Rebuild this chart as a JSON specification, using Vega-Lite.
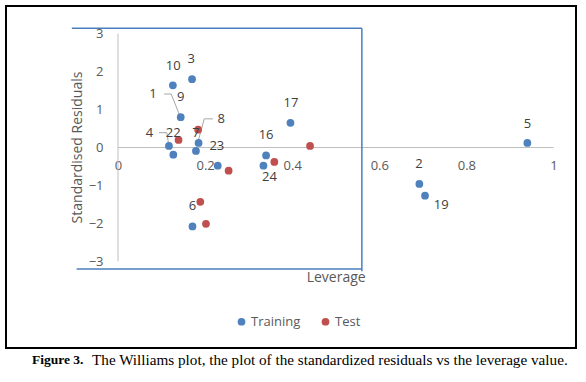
{
  "$schema": "https://vega.github.io/schema/vega-lite/v6.json",
  "width": 570,
  "height": 342,
  "autosize": {"type": "none"},
  "padding": {"left": 6, "top": 6, "right": 10, "bottom": 34},
  "background": "#ffffff",
  "config": {
    "font": "Open Sans",
    "view": {"stroke": "#000000", "strokeWidth": 2},
    "axis": {"grid": false, "domain": false, "ticks": false, "tickSize": 0, "title": null, "labelColor": "#595959", "labelFontSize": 13, "labelFont": "Open Sans"},
    "legend": {"orient": "none", "legendX": 229, "legendY": 309, "direction": "horizontal", "title": null, "labelFontSize": 13, "labelColor": "#595959", "symbolType": "circle", "symbolSize": 60, "columnPadding": 18, "labelOffset": 3}
  },
  "datasets": {
    "box": [
      {"part": "top", "x": -0.106, "x2": 0.560, "y": 3.14, "y2": 3.14},
      {"part": "right", "x": 0.560, "x2": 0.560, "y": 3.14, "y2": -3.26},
      {"part": "bottom", "x": -0.095, "x2": 0.560, "y": -3.20, "y2": -3.20}
    ],
    "axes": [
      {"x": 0, "x2": 1, "y": 0, "y2": 0},
      {"x": 0, "x2": 0, "y": 3, "y2": -3}
    ],
    "leaders": [
      {"seg": "1", "k": 1, "x": 0.106, "y": 1.41},
      {"seg": "1", "k": 2, "x": 0.122, "y": 1.41},
      {"seg": "1", "k": 3, "x": 0.143, "y": 0.81},
      {"seg": "8", "k": 1, "x": 0.218, "y": 0.755},
      {"seg": "8", "k": 2, "x": 0.198, "y": 0.755},
      {"seg": "8", "k": 3, "x": 0.183, "y": 0.12},
      {"seg": "4", "k": 1, "x": 0.094, "y": 0.39},
      {"seg": "4", "k": 2, "x": 0.112, "y": 0.39},
      {"seg": "4", "k": 3, "x": 0.117, "y": 0.04}
    ],
    "pts": [
      {"set": "Training", "leverage": 0.126, "residual": 1.64},
      {"set": "Training", "leverage": 0.170, "residual": 1.80},
      {"set": "Training", "leverage": 0.144, "residual": 0.80},
      {"set": "Training", "leverage": 0.396, "residual": 0.65},
      {"set": "Training", "leverage": 0.185, "residual": 0.12},
      {"set": "Training", "leverage": 0.117, "residual": 0.04},
      {"set": "Training", "leverage": 0.179, "residual": -0.09},
      {"set": "Training", "leverage": 0.127, "residual": -0.19},
      {"set": "Training", "leverage": 0.340, "residual": -0.21},
      {"set": "Training", "leverage": 0.229, "residual": -0.48},
      {"set": "Training", "leverage": 0.334, "residual": -0.48},
      {"set": "Training", "leverage": 0.171, "residual": -2.08},
      {"set": "Training", "leverage": 0.940, "residual": 0.12},
      {"set": "Training", "leverage": 0.692, "residual": -0.96},
      {"set": "Training", "leverage": 0.705, "residual": -1.27},
      {"set": "Test", "leverage": 0.184, "residual": 0.47},
      {"set": "Test", "leverage": 0.139, "residual": 0.20},
      {"set": "Test", "leverage": 0.441, "residual": 0.04},
      {"set": "Test", "leverage": 0.254, "residual": -0.61},
      {"set": "Test", "leverage": 0.359, "residual": -0.38},
      {"set": "Test", "leverage": 0.189, "residual": -1.43},
      {"set": "Test", "leverage": 0.202, "residual": -2.01}
    ],
    "labels": [
      {"t": "10", "x": 0.127, "y": 2.16},
      {"t": "3", "x": 0.168, "y": 2.33},
      {"t": "1", "x": 0.080, "y": 1.41},
      {"t": "9", "x": 0.144, "y": 1.33},
      {"t": "17", "x": 0.397, "y": 1.17},
      {"t": "8", "x": 0.237, "y": 0.75},
      {"t": "7", "x": 0.179, "y": 0.39},
      {"t": "22", "x": 0.127, "y": 0.39},
      {"t": "4", "x": 0.072, "y": 0.39},
      {"t": "23", "x": 0.227, "y": 0.04},
      {"t": "16", "x": 0.340, "y": 0.32},
      {"t": "24", "x": 0.348, "y": -0.78},
      {"t": "6", "x": 0.171, "y": -1.53},
      {"t": "5", "x": 0.940, "y": 0.62},
      {"t": "2", "x": 0.691, "y": -0.44},
      {"t": "19", "x": 0.742, "y": -1.51}
    ],
    "titles": [
      {"t": "Standardised Residuals", "x": -0.092, "y": 0.0, "a": 270},
      {"t": "Leverage", "x": 0.501, "y": -3.43, "a": 0}
    ],
    "capbold": [
      {"t": "Figure 3.", "x": -0.1975, "y": -5.61}
    ],
    "caption": [
      {"t": "The Williams plot, the plot of the standardized residuals vs the leverage value.", "x": -0.0597, "y": -5.61}
    ]
  },
  "layer": [
    {
      "data": {"name": "axes"},
      "mark": {"type": "rule", "color": "#bfbfbf", "strokeWidth": 1},
      "encoding": {
        "x": {"field": "x", "type": "quantitative", "scale": {"domain": [-0.2572, 1.0517], "nice": false, "zero": false},
              "axis": {"values": [0, 0.2, 0.4, 0.6, 0.8, 1], "format": "~g", "offset": -200.3, "labelPadding": 12}},
        "x2": {"field": "x2"},
        "y": {"field": "y", "type": "quantitative", "scale": {"domain": [-5.284, 3.729], "nice": false, "zero": false},
              "axis": {"values": [-3, -2, -1, 0, 1, 2, 3], "format": "~g", "offset": -112, "labelPadding": 15}},
        "y2": {"field": "y2"}
      }
    },
    {
      "data": {"name": "box"},
      "mark": {"type": "rule", "color": "#4a7ebb", "strokeWidth": 1.5},
      "encoding": {
        "x": {"field": "x", "type": "quantitative"},
        "x2": {"field": "x2"},
        "y": {"field": "y", "type": "quantitative"},
        "y2": {"field": "y2"}
      }
    },
    {
      "data": {"name": "leaders"},
      "mark": {"type": "line", "color": "#a6a6a6", "strokeWidth": 1},
      "encoding": {
        "x": {"field": "x", "type": "quantitative"},
        "y": {"field": "y", "type": "quantitative"},
        "detail": {"field": "seg"},
        "order": {"field": "k"}
      }
    },
    {
      "data": {"name": "pts"},
      "mark": {"type": "point", "filled": true, "opacity": 1, "size": 60, "shape": "circle"},
      "encoding": {
        "x": {"field": "leverage", "type": "quantitative"},
        "y": {"field": "residual", "type": "quantitative"},
        "color": {"field": "set", "type": "nominal", "scale": {"domain": ["Training", "Test"], "range": ["#4f81bd", "#c0504d"]}}
      }
    },
    {
      "data": {"name": "labels"},
      "mark": {"type": "text", "fontSize": 13, "color": "#404040", "align": "center", "baseline": "middle"},
      "encoding": {
        "x": {"field": "x", "type": "quantitative"},
        "y": {"field": "y", "type": "quantitative"},
        "text": {"field": "t"}
      }
    },
    {
      "data": {"name": "titles"},
      "mark": {"type": "text", "fontSize": 14, "color": "#595959", "align": "center", "baseline": "middle"},
      "encoding": {
        "x": {"field": "x", "type": "quantitative"},
        "y": {"field": "y", "type": "quantitative"},
        "angle": {"field": "a", "type": "quantitative", "scale": null},
        "text": {"field": "t"}
      }
    },
    {
      "data": {"name": "capbold"},
      "mark": {"type": "text", "font": "Liberation Serif", "fontSize": 13.5, "fontWeight": "bold", "color": "#000000", "align": "left", "baseline": "middle"},
      "encoding": {
        "x": {"field": "x", "type": "quantitative"},
        "y": {"field": "y", "type": "quantitative"},
        "text": {"field": "t"}
      }
    },
    {
      "data": {"name": "caption"},
      "mark": {"type": "text", "font": "Liberation Serif", "fontSize": 15.2, "color": "#000000", "align": "left", "baseline": "middle"},
      "encoding": {
        "x": {"field": "x", "type": "quantitative"},
        "y": {"field": "y", "type": "quantitative"},
        "text": {"field": "t"}
      }
    }
  ]
}
